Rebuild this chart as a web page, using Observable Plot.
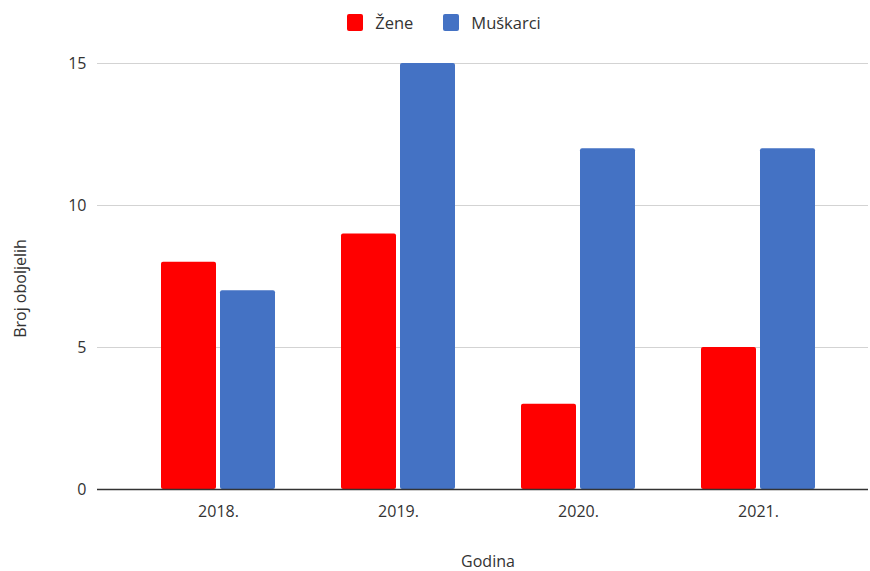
<!DOCTYPE html>
<html>
<head>
<meta charset="utf-8">
<script src="https://cdn.jsdelivr.net/npm/d3@7"></script>
<script src="https://cdn.jsdelivr.net/npm/@observablehq/plot@0.6"></script>
<style>
  body { margin: 0; background: #fff; font-family: "Open Sans", sans-serif; color: #444; }
  #wrap { width: 870px; height: 571px; overflow: hidden; }
  #legend { height: 44px; display: flex; justify-content: center; align-items: center; padding-left: 18px; box-sizing: border-box; font-size: 16.5px; color: #333; }
  .item { display: flex; align-items: center; margin: 0 15px; }
  .sw { width: 16px; height: 17px; border-radius: 2px; margin-right: 12px; }
  #caption { height: 30px; text-align: center; font-size: 16px; color: #333; padding-left: 106px; line-height: 40px; }
  svg { display: block; }
</style>
</head>
<body>
<div id="wrap">
  <div id="legend"></div>
  <div id="chart"></div>
  <div id="caption">Godina</div>
</div>
<script>
const years = ["2018.", "2019.", "2020.", "2021."];
const zene = [8, 9, 3, 5];
const muskarci = [7, 15, 12, 12];
const series = ["Žene", "Muškarci"];
const colors = ["#ff0000", "#4472c4"];
const yTicks = [0, 5, 10, 15];
const yLabel = "Broj oboljelih";

const data = years.flatMap((y, i) => [
  { year: y, sex: series[0], value: zene[i] },
  { year: y, sex: series[1], value: muskarci[i] }
]);

// legend
const legend = document.getElementById("legend");
series.forEach((s, i) => {
  const it = document.createElement("div");
  it.className = "item";
  const sw = document.createElement("div");
  sw.className = "sw";
  sw.style.background = colors[i];
  const t = document.createElement("span");
  t.textContent = s;
  it.appendChild(sw); it.appendChild(t);
  legend.appendChild(it);
});

const chart = Plot.plot({
  width: 870,
  height: 497,
  marginLeft: 97,
  marginRight: 2,
  marginTop: 19,
  marginBottom: 52,
  style: { fontFamily: "Open Sans, sans-serif", fontSize: "16px", color: "#333", background: "#fff" },
  x: { domain: years, paddingInner: 0.3667, paddingOuter: 0.325, align: 0.547, label: null, tickSize: 0, tickPadding: 16 },
  y: { domain: [0, 15], ticks: yTicks, tickSize: 0, tickPadding: 11, label: null },
  marks: [
    Plot.ruleY(yTicks.filter(d => d > 0), { stroke: "#d3d3d3", strokeWidth: 1.2 }),
    Plot.barY(data.filter(d => d.sex === series[0]), { x: "year", y: "value", fill: colors[0], insetRight: 59, rx: 2 }),
    Plot.barY(data.filter(d => d.sex === series[1]), { x: "year", y: "value", fill: colors[1], insetLeft: 59, rx: 2 }),
    Plot.ruleY([0], { stroke: "#333", strokeWidth: 1.5 }),
    Plot.text([yLabel], { text: d => d, frameAnchor: "left", textAnchor: "middle", rotate: -90, dx: -77, dy: 12, fill: "#333", fontSize: 16 })
  ]
});
document.getElementById("chart").appendChild(chart);
</script>
</body>
</html>
